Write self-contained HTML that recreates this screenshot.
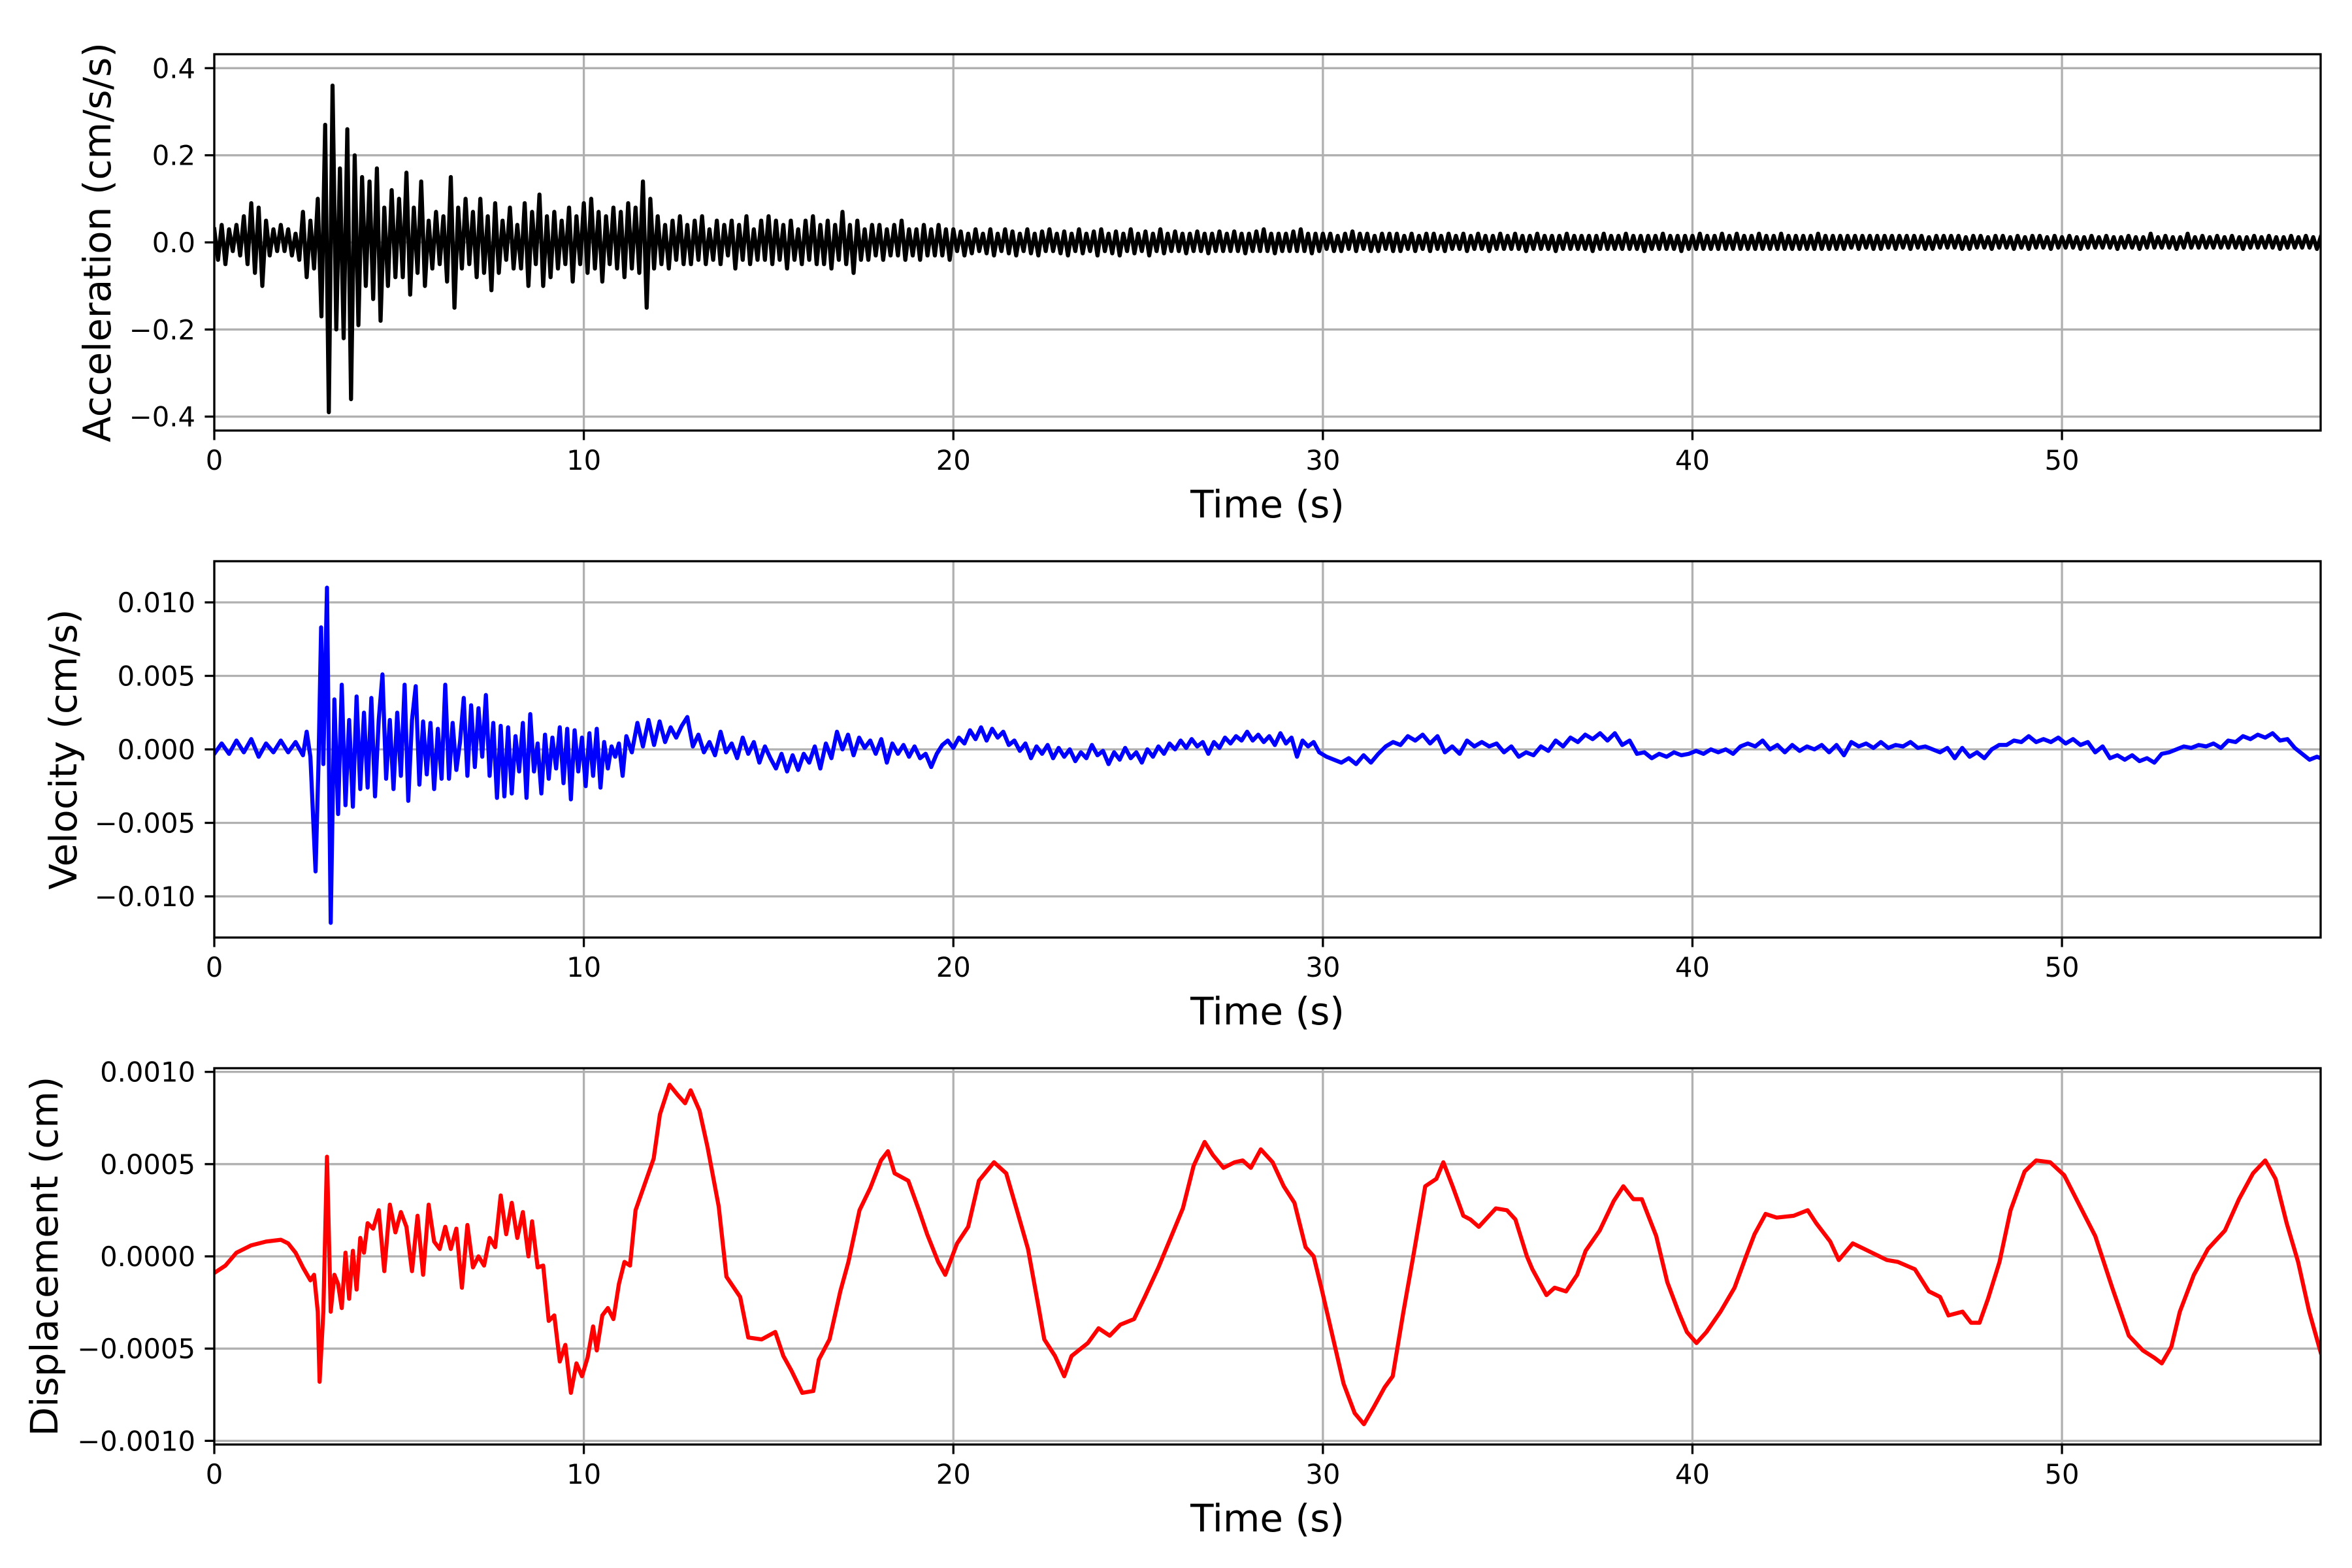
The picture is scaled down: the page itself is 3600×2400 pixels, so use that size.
<!DOCTYPE html>
<html><head><meta charset="utf-8"><title>Ground motion records</title>
<style>
html,body{margin:0;padding:0;background:#fff;}
svg{display:block;font-family:"DejaVu Sans","Liberation Sans",sans-serif;}
</style></head>
<body>
<svg id="fig" width="3600" height="2400" viewBox="0 0 3600 2400" xmlns="http://www.w3.org/2000/svg">
<rect x="0" y="0" width="3600" height="2400" fill="#fff"/>
</svg>
<script>
// ---------- shared axis data ----------
const xTicks = [0, 10, 20, 30, 40, 50];
const xMin = 0, xMax = 57;

// ---------- acceleration (cm/s/s) ----------
const accDtA = 0.1; // first segment sample spacing (s), starts at 0
const accValuesA = [
0.03,-0.04,0.04,-0.05,0.03,-0.02,0.04,-0.03,0.06,-0.05,0.09,-0.07,0.08,-0.1,0.05,-0.03,0.03,-0.02,0.04,-0.02,
0.03,-0.03,0.02,-0.04,0.07,-0.08,0.05,-0.06,0.1,-0.17,
0.27,-0.39,0.36,-0.2,0.17,-0.22,0.26,-0.36,0.2,-0.19,
0.15,-0.1,0.14,-0.13,0.17,-0.18,0.08,-0.1,0.12,-0.08,
0.1,-0.08,0.16,-0.12,0.08,-0.07,0.14,-0.1,0.05,-0.06,
0.07,-0.05,0.06,-0.09,0.15,-0.15,0.08,-0.06,0.1,-0.05,
0.07,-0.08,0.1,-0.07,0.06,-0.11,0.09,-0.07,0.05,-0.04,
0.08,-0.06,0.04,-0.06,0.09,-0.1,0.07,-0.05,0.11,-0.1,
0.06,-0.08,0.07,-0.06,0.05,-0.05,0.08,-0.09,0.06,-0.05,
0.09,-0.07,0.1,-0.06,0.07,-0.09,0.06,-0.05,0.08,-0.06,
0.07,-0.08,0.09,-0.06,0.08,-0.07,0.14,-0.15,0.1,-0.06,
0.06,-0.05,0.04,-0.06,0.05,-0.04,0.06,-0.05,0.04,-0.05,
0.05,-0.04,0.06,-0.05,0.03,-0.04,0.05,-0.05,0.04,-0.03,
0.05,-0.06,0.04,-0.04,0.06,-0.05,0.03,-0.04,0.05,-0.04,
0.06,-0.05,0.05,-0.04,0.04,-0.06,0.05,-0.04,0.03,-0.05,
0.05,-0.04,0.06,-0.05,0.04,-0.05,0.05,-0.06,0.04,-0.04,
0.07,-0.05,0.04,-0.07,0.05,-0.04,0.03,-0.04,0.04,-0.03,
0.04,-0.04,0.03,-0.03,0.04,-0.03,0.05,-0.04,0.03,-0.03,
0.03,-0.04,0.04,-0.03,0.03,-0.03,0.04,-0.03,0.03,-0.04
];
const accStartB = 20, accDtB = 0.1;
const accValuesB = [
0.03,-0.02,0.025,-0.03,0.02,-0.025,0.03,-0.02,0.02,-0.025,0.03,-0.03,0.02,-0.02,0.03,-0.025,0.025,-0.03,0.02,-0.02,
0.03,-0.025,0.02,-0.03,0.025,-0.02,0.03,-0.02,0.02,-0.025,0.025,-0.03,0.02,-0.02,0.03,-0.025,0.02,-0.02,0.025,-0.03,
0.03,-0.02,0.02,-0.025,0.025,-0.03,0.02,-0.02,0.03,-0.025,0.02,-0.02,0.025,-0.03,0.02,-0.02,0.03,-0.025,0.02,-0.02,
0.025,-0.02,0.02,-0.025,0.02,-0.02,0.025,-0.02,0.02,-0.025,0.02,-0.02,0.025,-0.02,0.02,-0.02,0.025,-0.02,0.02,-0.025,
0.02,-0.02,0.025,-0.02,0.03,-0.02,0.02,-0.025,0.02,-0.02,0.02,-0.02,0.025,-0.02,0.03,-0.02,0.02,-0.025,0.02,-0.02,
0.02,-0.015,0.02,-0.02,0.015,-0.02,0.02,-0.015,0.025,-0.02,0.02,-0.015,0.02,-0.02,0.015,-0.02,0.02,-0.015,0.02,-0.02,
0.02,-0.02,0.015,-0.015,0.02,-0.02,0.015,-0.015,0.02,-0.02,0.02,-0.015,0.015,-0.02,0.02,-0.015,0.015,-0.015,0.02,-0.02,
0.015,-0.015,0.02,-0.015,0.015,-0.02,0.015,-0.015,0.02,-0.015,0.015,-0.015,0.02,-0.015,0.015,-0.02,0.015,-0.015,0.02,-0.015,
0.015,-0.015,0.015,-0.02,0.015,-0.015,0.02,-0.015,0.015,-0.015,0.015,-0.015,0.015,-0.02,0.015,-0.015,0.02,-0.015,0.015,-0.015,
0.015,-0.015,0.02,-0.015,0.015,-0.015,0.015,-0.02,0.015,-0.015,0.015,-0.015,0.02,-0.015,0.015,-0.015,0.015,-0.02,0.015,-0.015,
0.015,-0.015,0.02,-0.015,0.015,-0.015,0.015,-0.015,0.02,-0.015,0.015,-0.015,0.02,-0.015,0.015,-0.015,0.015,-0.015,0.02,-0.015,
0.015,-0.015,0.015,-0.015,0.02,-0.015,0.015,-0.015,0.015,-0.015,0.015,-0.015,0.015,-0.015,0.02,-0.015,0.015,-0.015,0.015,-0.015,
0.015,-0.015,0.015,-0.012,0.015,-0.015,0.015,-0.012,0.015,-0.015,0.015,-0.015,0.015,-0.012,0.015,-0.015,0.015,-0.012,0.015,-0.015,
0.015,-0.012,0.015,-0.015,0.012,-0.015,0.015,-0.012,0.015,-0.012,0.015,-0.012,0.015,-0.015,0.012,-0.015,0.015,-0.012,0.015,-0.012,
0.012,-0.015,0.015,-0.012,0.015,-0.012,0.012,-0.015,0.015,-0.012,0.012,-0.015,0.015,-0.012,0.015,-0.012,0.012,-0.015,0.015,-0.012,
0.012,-0.012,0.015,-0.012,0.012,-0.015,0.012,-0.012,0.015,-0.012,0.012,-0.012,0.015,-0.012,0.012,-0.015,0.012,-0.012,0.015,-0.012,
0.012,-0.015,0.012,-0.012,0.02,-0.012,0.012,-0.012,0.015,-0.012,0.012,-0.015,0.012,-0.012,0.02,-0.012,0.012,-0.012,0.015,-0.012,
0.012,-0.012,0.015,-0.012,0.012,-0.012,0.015,-0.012,0.012,-0.015,0.012,-0.012,0.015,-0.012,0.012,-0.012,0.015,-0.012,0.012,-0.015,
0.012,-0.012,0.015,-0.012,0.012,-0.012,0.015,-0.012,0.012,-0.015,0.012
];
const accTicks = [-0.4, -0.2, 0, 0.2, 0.4];
const accTickLabels = ["\u22120.4", "\u22120.2", "0.0", "0.2", "0.4"];

// ---------- velocity (cm/s) ----------
const velTimes = [0,0.2,0.4,0.6,0.8,1.0,1.2,1.4,1.6,1.8,2.0,2.2,2.4,2.5,2.6,2.74,2.82,2.89,2.95,3.05,3.15,3.25,3.35,3.45,3.55,3.65,3.75,3.85,3.95,4.05,4.15,4.25,4.35,4.45,4.55,4.65,4.75,4.85,4.95,5.05,5.15,5.25,5.35,5.45,5.55,5.65,5.75,5.85,5.95,6.05,6.15,6.25,6.35,6.45,6.55,6.65,6.75,6.85,6.95,7.05,7.15,7.25,7.35,7.45,7.55,7.65,7.75,7.85,7.95,8.05,8.15,8.25,8.35,8.45,8.55,8.65,8.75,8.85,8.95,9.05,9.15,9.25,9.35,9.45,9.55,9.65,9.75,9.85,9.95,10.05,10.15,10.25,10.35,10.45,10.55,10.65,10.75,10.85,10.95,11.05,11.15,11.3,11.45,11.6,11.75,11.9,12.05,12.2,12.35,12.5,12.65,12.8,12.95,13.1,13.25,13.4,13.55,13.7,13.85,14.0,14.15,14.3,14.45,14.6,14.75,14.9,15.05,15.2,15.35,15.5,15.65,15.8,15.95,16.1,16.25,16.4,16.55,16.7,16.85,17.0,17.15,17.3,17.45,17.6,17.75,17.9,18.05,18.2,18.35,18.5,18.65,18.8,18.95,19.1,19.25,19.4,19.55,19.7,19.85,20.0,20.15,20.3,20.45,20.6,20.75,20.9,21.05,21.2,21.35,21.5,21.65,21.8,21.95,22.1,22.25,22.4,22.55,22.7,22.85,23.0,23.15,23.3,23.45,23.6,23.75,23.9,24.05,24.2,24.35,24.5,24.65,24.8,24.95,25.1,25.25,25.4,25.55,25.7,25.85,26.0,26.15,26.3,26.45,26.6,26.75,26.9,27.05,27.2,27.35,27.5,27.65,27.8,27.95,28.1,28.25,28.4,28.55,28.7,28.85,29.0,29.15,29.3,29.45,29.6,29.75,29.9,30.1,30.3,30.5,30.7,30.9,31.1,31.3,31.5,31.7,31.9,32.1,32.3,32.5,32.7,32.9,33.1,33.3,33.5,33.7,33.9,34.1,34.3,34.5,34.7,34.9,35.1,35.3,35.5,35.7,35.9,36.1,36.3,36.5,36.7,36.9,37.1,37.3,37.5,37.7,37.9,38.1,38.3,38.5,38.7,38.9,39.1,39.3,39.5,39.7,39.9,40.1,40.3,40.5,40.7,40.9,41.1,41.3,41.5,41.7,41.9,42.1,42.3,42.5,42.7,42.9,43.1,43.3,43.5,43.7,43.9,44.1,44.3,44.5,44.7,44.9,45.1,45.3,45.5,45.7,45.9,46.1,46.3,46.5,46.7,46.9,47.1,47.3,47.5,47.7,47.9,48.1,48.3,48.5,48.7,48.9,49.1,49.3,49.5,49.7,49.9,50.1,50.3,50.5,50.7,50.9,51.1,51.3,51.5,51.7,51.9,52.1,52.3,52.5,52.7,52.9,53.1,53.3,53.5,53.7,53.9,54.1,54.3,54.5,54.7,54.9,55.1,55.3,55.5,55.7,55.9,56.1,56.3,56.5,56.7,56.9,57.0];
const velValues = [-0.3,0.4,-0.3,0.6,-0.2,0.7,-0.5,0.4,-0.2,0.6,-0.2,0.5,-0.4,1.2,-0.5,-8.3,-1,8.3,-1.0,11,-11.8,3.4,-4.4,4.4,-3.8,2.0,-3.9,3.6,-2.7,2.5,-2.6,3.5,-3.2,2.0,5.1,-2.0,2.0,-2.7,2.5,-1.8,4.4,-3.5,2.0,4.3,-2.4,1.9,-1.7,1.8,-2.7,1.4,-2.0,4.4,-2.0,1.8,-1.4,0.5,3.5,-1.8,3.0,-1.2,2.8,-0.5,3.7,-1.8,1.8,-3.3,1.6,-3.2,1.5,-3.0,0.9,-1.5,1.8,-3.3,2.4,-1.5,0.4,-3.0,1.0,-2.0,0.8,-1.3,1.5,-2.3,1.4,-3.4,1.3,-1.5,0.8,-2.5,1.1,-1.8,1.4,-2.6,0.5,-1.3,0.2,-0.5,0.4,-1.8,0.9,-0.2,1.8,0.2,2.0,0.3,1.9,0.5,1.5,0.8,1.6,2.2,0.2,1.0,-0.2,0.5,-0.4,1.2,-0.2,0.4,-0.6,0.8,-0.3,0.5,-0.9,0.2,-0.6,-1.3,-0.3,-1.5,-0.4,-1.4,-0.3,-0.9,0.2,-1.3,0.4,-0.6,1.2,0.0,1.0,-0.4,0.8,0.1,0.6,-0.3,0.7,-0.9,0.4,-0.3,0.3,-0.5,0.2,-0.6,-0.3,-1.2,-0.3,0.3,0.6,0.1,0.8,0.4,1.3,0.7,1.5,0.6,1.4,0.8,1.2,0.3,0.6,-0.1,0.4,-0.6,0.2,-0.3,0.3,-0.6,0.1,-0.5,0.0,-0.8,-0.2,-0.6,0.3,-0.4,-0.1,-1.0,-0.2,-0.7,0.1,-0.6,-0.2,-0.9,0.0,-0.5,0.2,-0.3,0.4,0.0,0.6,0.1,0.7,0.2,0.5,-0.3,0.5,0.1,0.8,0.4,0.9,0.6,1.2,0.6,1.0,0.5,0.9,0.3,1.1,0.4,0.8,-0.5,0.6,0.2,0.5,-0.2,-0.5,-0.7,-0.9,-0.6,-1.0,-0.4,-0.9,-0.3,0.2,0.5,0.3,0.9,0.6,1.0,0.4,0.9,-0.2,0.2,-0.3,0.6,0.2,0.5,0.2,0.4,-0.2,0.2,-0.5,-0.2,-0.4,0.2,-0.1,0.6,0.2,0.8,0.5,1.0,0.7,1.1,0.6,1.1,0.3,0.6,-0.3,-0.2,-0.6,-0.3,-0.5,-0.2,-0.4,-0.3,-0.1,-0.3,0.0,-0.2,0.0,-0.3,0.2,0.4,0.2,0.6,0.0,0.3,-0.2,0.3,-0.1,0.2,0.0,0.3,-0.2,0.3,-0.4,0.5,0.2,0.4,0.1,0.5,0.1,0.3,0.2,0.5,0.1,0.2,0.0,-0.2,0.1,-0.6,0.1,-0.5,-0.2,-0.6,0.0,0.3,0.3,0.6,0.5,0.9,0.5,0.7,0.5,0.8,0.4,0.7,0.3,0.5,-0.2,0.2,-0.6,-0.4,-0.7,-0.4,-0.8,-0.6,-0.9,-0.3,-0.2,0.0,0.2,0.1,0.3,0.2,0.4,0.1,0.6,0.5,0.9,0.7,1.0,0.8,1.1,0.6,0.7,0.1,-0.3,-0.7,-0.5,-0.6];
const velScale = 0.001;
const velTicks = [-0.01, -0.005, 0, 0.005, 0.01];
const velTickLabels = ["\u22120.010", "\u22120.005", "0.000", "0.005", "0.010"];

// ---------- displacement (cm) ----------
const dispTimes = [0,0.3,0.6,1.0,1.4,1.8,2.0,2.2,2.4,2.6,2.7,2.8,2.85,2.95,3.05,3.15,3.25,3.35,3.45,3.55,3.65,3.75,3.85,3.95,4.05,4.15,4.3,4.45,4.6,4.75,4.9,5.05,5.2,5.35,5.5,5.65,5.8,5.95,6.1,6.25,6.4,6.55,6.7,6.85,7.0,7.15,7.3,7.45,7.6,7.75,7.9,8.05,8.2,8.35,8.5,8.6,8.75,8.9,9.05,9.2,9.35,9.5,9.65,9.8,9.95,10.1,10.25,10.35,10.5,10.65,10.8,10.95,11.1,11.25,11.4,
11.89,12.06,12.32,12.54,12.74,12.89,13.13,13.35,13.65,13.86,14.23,14.45,14.81,15.18,15.40,15.62,15.91,16.21,16.36,16.65,16.94,17.16,17.46,17.75,18.04,18.23,18.41,18.78,19.07,19.29,19.59,19.78,20.10,20.40,20.69,21.10,21.43,21.72,22.02,22.31,22.46,22.75,23.00,23.20,23.64,23.93,24.23,24.52,24.89,25.18,25.55,25.84,26.21,26.50,26.80,27.02,27.31,27.61,27.83,28.05,28.32,28.64,28.94,29.23,29.53,29.75,29.97,30.27,30.56,30.86,31.11,31.37,31.67,31.89,32.18,32.48,32.77,33.07,33.26,33.51,33.80,33.99,34.22,34.68,34.98,35.21,35.52,35.67,36.05,36.27,36.58,36.88,37.11,37.49,37.87,38.13,38.40,38.63,39.02,39.32,39.62,39.85,40.11,40.38,40.76,41.14,41.45,41.68,41.98,42.28,42.74,43.12,43.35,43.73,43.96,44.34,44.65,45.26,45.56,46.02,46.40,46.70,46.93,47.31,47.54,47.77,48.00,48.31,48.61,48.99,49.30,49.68,50.06,50.44,50.90,51.36,51.81,52.19,52.50,52.70,52.96,53.19,53.57,53.95,54.41,54.79,55.17,55.50,55.78,56.08,56.39,56.69,57.00];
const dispValues = [-0.9,-0.5,0.2,0.6,0.8,0.9,0.7,0.2,-0.6,-1.3,-1.0,-3.0,-6.8,-3.0,5.4,-3.0,-1.0,-1.5,-2.8,0.2,-2.3,0.3,-1.8,1.0,0.2,1.8,1.5,2.5,-0.8,2.8,1.3,2.4,1.6,-0.8,2.2,-1.0,2.8,0.8,0.4,1.6,0.4,1.5,-1.7,1.7,-0.6,0.0,-0.5,1.0,0.5,3.3,1.2,2.9,1.0,2.4,0.0,1.9,-0.6,-0.5,-3.5,-3.2,-5.7,-4.8,-7.4,-5.8,-6.5,-5.5,-3.8,-5.1,-3.2,-2.8,-3.4,-1.5,-0.3,-0.5,2.5,
5.3,7.7,9.3,8.75,8.3,9.0,7.9,5.9,2.7,-1.1,-2.2,-4.4,-4.5,-4.1,-5.4,-6.2,-7.4,-7.3,-5.6,-4.5,-1.9,-0.3,2.5,3.7,5.2,5.7,4.5,4.1,2.5,1.2,-0.3,-1.0,0.7,1.6,4.1,5.1,4.5,2.5,0.4,-2.8,-4.5,-5.4,-6.5,-5.4,-4.7,-3.9,-4.3,-3.7,-3.4,-2.2,-0.6,0.8,2.6,4.9,6.2,5.5,4.8,5.1,5.2,4.8,5.8,5.1,3.8,2.9,0.5,0.0,-1.8,-4.4,-6.9,-8.5,-9.1,-8.2,-7.1,-6.5,-3.0,0.4,3.8,4.2,5.1,3.8,2.2,2.0,1.6,2.6,2.5,2.0,0.0,-0.7,-2.1,-1.7,-1.9,-1.0,0.3,1.4,3.0,3.8,3.1,3.1,1.1,-1.4,-3.0,-4.1,-4.7,-4.1,-3.0,-1.7,0.0,1.2,2.3,2.1,2.2,2.5,1.8,0.8,-0.2,0.7,0.4,-0.2,-0.3,-0.7,-1.9,-2.2,-3.2,-3.0,-3.6,-3.6,-2.3,-0.3,2.5,4.6,5.2,5.1,4.4,2.9,1.1,-1.7,-4.3,-5.1,-5.5,-5.8,-4.9,-3.0,-1.0,0.4,1.4,3.1,4.5,5.2,4.2,1.8,-0.3,-3.0,-5.2];
const dispScale = 0.0001;
const dispTicks = [-0.001, -0.0005, 0, 0.0005, 0.001];
const dispTickLabels = ["\u22120.0010", "\u22120.0005", "0.0000", "0.0005", "0.0010"];

// ---------- drawing ----------
const NS = "http://www.w3.org/2000/svg";
const svg = document.getElementById("fig");
const L = 328, R = 3552;
function mk(tag, attrs, parent) {
  const e = document.createElementNS(NS, tag);
  for (const k in attrs) e.setAttribute(k, attrs[k]);
  (parent || svg).appendChild(e);
  return e;
}
function drawPanel(key, top, bottom, yMin, yMax, yTicks, yLabels, ts, vs, color, ylabel, ylabelX) {
  const g = mk("g", {});
  
  
  const sx = t => L + (t - xMin) / (xMax - xMin) * (R - L);
  const sy = v => bottom - (v - yMin) / (yMax - yMin) * (bottom - top);
  xTicks.forEach(t => {
    const ln = mk("line", {x1: sx(t), x2: sx(t), y1: top, y2: bottom, stroke: "#b0b0b0", "stroke-width": 3.3}, g);
    
    
  });
  yTicks.forEach(v => {
    const ln = mk("line", {x1: L, x2: R, y1: sy(v), y2: sy(v), stroke: "#b0b0b0", "stroke-width": 3.3}, g);
    
    
  });
  const cp = mk("clipPath", {id: "clip-" + key}, g);
  mk("rect", {x: L, y: top, width: R - L, height: bottom - top}, cp);
  let d = "";
  for (let i = 0; i < ts.length; i++) d += (i ? "L" : "M") + sx(ts[i]).toFixed(1) + " " + sy(vs[i]).toFixed(1);
  const p = mk("path", {d: d, fill: "none", stroke: color, "stroke-width": 6.25, "stroke-linejoin": "round", "stroke-linecap": "square", "clip-path": "url(#clip-" + key + ")"}, g);
  
  
  const sp = mk("rect", {x: L, y: top, width: R - L, height: bottom - top, fill: "none", stroke: "#000", "stroke-width": 3.3}, g);
  
  
  xTicks.forEach(t => {
    const tk = mk("line", {x1: sx(t), x2: sx(t), y1: bottom, y2: bottom + 14.6, stroke: "#000", "stroke-width": 3.3}, g);
    
    
    const tx = mk("text", {x: sx(t), y: bottom + 60, "font-size": 41.7, "text-anchor": "middle", fill: "#000"}, g);
    tx.textContent = String(t);
    
    
  });
  yTicks.forEach((v, i) => {
    const tk = mk("line", {x1: L - 14.6, x2: L, y1: sy(v), y2: sy(v), stroke: "#000", "stroke-width": 3.3}, g);
    
    
    const tx = mk("text", {x: L - 29, y: sy(v) + 15, "font-size": 41.7, "text-anchor": "end", fill: "#000"}, g);
    tx.textContent = yLabels[i];
    
    
  });
  const xl = mk("text", {x: (L + R) / 2, y: bottom + 133, "font-size": 58, "text-anchor": "middle", fill: "#000"}, g);
  xl.textContent = "Time (s)";
  
  
  const cy = (top + bottom) / 2;
  const yl = mk("text", {x: ylabelX, y: cy, "font-size": 58, "text-anchor": "middle", "dominant-baseline": "central", fill: "#000", transform: "rotate(-90 " + ylabelX + " " + cy + ")"}, g);
  yl.textContent = ylabel;
  
  
}

const accT = [], accV = [];
accValuesA.forEach((v, i) => { accT.push(i * accDtA); accV.push(v); });
accValuesB.forEach((v, i) => { accT.push(accStartB + i * accDtB); accV.push(v); });

drawPanel("acceleration", 83, 659, -0.432, 0.432, accTicks, accTickLabels, accT, accV, "#000000", "Acceleration (cm/s/s)", 149);
drawPanel("velocity", 859, 1435, -0.0128, 0.0128, velTicks, velTickLabels, velTimes, velValues.map(v => v * velScale), "#0000ff", "Velocity (cm/s)", 97);
drawPanel("displacement", 1635, 2211, -0.00102, 0.00102, dispTicks, dispTickLabels, dispTimes, dispValues.map(v => v * dispScale), "#ff0000", "Displacement (cm)", 68);
</script>
</body></html>
